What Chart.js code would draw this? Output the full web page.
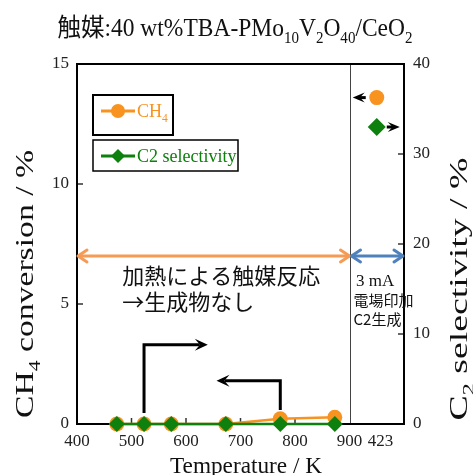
<!DOCTYPE html>
<html>
<head>
<meta charset="utf-8">
<script src="https://cdn.jsdelivr.net/npm/chart.js@4.4.1/dist/chart.umd.min.js"></script>
<style>
  html, body { margin: 0; padding: 0; background: #fff; }
</style>
</head>
<body>
<canvas id="chart" width="473" height="475"></canvas>
<script>
// data
const temps = [473, 523, 573, 673, 773, 873]
const ch4Conv = [0, 0, 0, 0, 0.22, 0.28]
const c2Sel = [0, 0, 0, 0, 0, 0]
const fieldX = [950]          // column for the 3 mA (423 K) run
const fieldCh4 = [13.6]
const fieldC2 = [33.0]

const xTicks = [400, 500, 600, 700, 800, 900, 957]
const xTickLabels = ['400', '500', '600', '700', '800', '900', '423']
const yTicks = [0, 5, 10, 15]
const y2Ticks = [0, 10, 20, 30, 40]
const innerTicksX = [500, 600, 700, 800]
const innerTicksY = [5, 10]
const innerTicksY2 = [10, 20, 30]

const SERIF = '"Liberation Serif", "DejaVu Serif", serif'
const JP = '"Noto Sans CJK JP", "Noto Sans CJK SC", sans-serif'
const ORANGE = '#F7931E'
const GREEN = '#0E800E'
const ARROW_OR = '#F59B55'
const ARROW_BL = '#4F81BD'

// --- small text helpers (subscripts, mixed fonts) ---
function segFont(s, size) {
    const sz = s.sub ? size * 0.64 : size
    return `${sz}px ${s.jp ? JP : SERIF}`
}
function richWidth(ctx, segs, size) {
    let w = 0
    segs.forEach(s => { ctx.font = segFont(s, size); w += ctx.measureText(s.t).width })
    return w
}
function drawRich(ctx, segs, x, y, size) {
    let cx = x
    segs.forEach(s => {
        ctx.font = segFont(s, size)
        ctx.fillText(s.t, cx, s.sub ? y + size * 0.28 : y)
        cx += ctx.measureText(s.t).width
    })
}
// draw centred on cx, stretched along the text to fit len
function drawFit(ctx, segs, cx, cy, size, len, rot) {
    ctx.save()
    ctx.translate(cx, cy)
    if (rot) ctx.rotate(-Math.PI / 2)
    const w = richWidth(ctx, segs, size)
    ctx.scale(len / w, 1)
    ctx.textBaseline = 'alphabetic'
    drawRich(ctx, segs, -w / 2, 0, size)
    ctx.restore()
}

function line(ctx, x1, y1, x2, y2) {
    ctx.beginPath(); ctx.moveTo(x1, y1); ctx.lineTo(x2, y2); ctx.stroke()
}
// filled "stealth" head, tip at (x,y), dir = +1 right / -1 left
function stealth(ctx, x, y, dir, len = 13, half = 6) {
    ctx.beginPath()
    ctx.moveTo(x, y)
    ctx.lineTo(x - dir * len, y - half)
    ctx.lineTo(x - dir * len * 0.6, y)
    ctx.lineTo(x - dir * len, y + half)
    ctx.closePath()
    ctx.fill()
}
// open chevron head
function chevron(ctx, x, y, dir, len = 9, half = 6) {
    ctx.beginPath()
    ctx.moveTo(x - dir * len, y - half)
    ctx.lineTo(x, y)
    ctx.lineTo(x - dir * len, y + half)
    ctx.stroke()
}

const decor = {
    id: 'decor',
    beforeDatasetsDraw(chart) {
        const { ctx, chartArea: a, scales: { x, y, y2 } } = chart
        ctx.save()

        // divider between heating and field runs
        ctx.strokeStyle = '#444'
        ctx.lineWidth = 1
        const xd = Math.round(x.getPixelForValue(900)) + 0.5
        line(ctx, xd, a.top, xd, a.bottom)

        // inward tick marks
        ctx.strokeStyle = '#333'
        ctx.lineWidth = 1.5
        innerTicksX.forEach(v => { const px = x.getPixelForValue(v); line(ctx, px, a.bottom, px, a.bottom - 6) })
        innerTicksY.forEach(v => { const py = y.getPixelForValue(v); line(ctx, a.left, py, a.left + 6, py) })
        innerTicksY2.forEach(v => { const py = y2.getPixelForValue(v); line(ctx, a.right, py, a.right - 6, py) })

        // frame
        ctx.strokeStyle = '#000'
        ctx.lineWidth = 2
        ctx.strokeRect(a.left, a.top, a.right - a.left, a.bottom - a.top)

        // range arrows at 7 %
        const ya = y.getPixelForValue(7)
        ctx.lineWidth = 3
        ctx.lineCap = 'round'
        ctx.lineJoin = 'round'
        ctx.strokeStyle = ARROW_OR
        line(ctx, a.left + 2, ya, xd - 2, ya)
        chevron(ctx, a.left + 1, ya, -1)
        chevron(ctx, xd - 1, ya, 1)
        ctx.strokeStyle = ARROW_BL
        line(ctx, xd + 2, ya, a.right - 2, ya)
        chevron(ctx, xd + 1, ya, -1)
        chevron(ctx, a.right - 1, ya, 1)

        // heating / cooling step arrows
        ctx.strokeStyle = '#000'
        ctx.fillStyle = '#000'
        ctx.lineWidth = 3
        ctx.lineCap = 'butt'
        ctx.lineJoin = 'miter'
        let px = x.getPixelForValue(523), pyb = y.getPixelForValue(0.46), pyt = y.getPixelForValue(3.3)
        let pe = x.getPixelForValue(640)
        ctx.beginPath(); ctx.moveTo(px, pyb); ctx.lineTo(px, pyt); ctx.lineTo(pe - 8, pyt); ctx.stroke()
        stealth(ctx, pe, pyt, 1)
        px = x.getPixelForValue(773); pyb = y.getPixelForValue(0.58); pyt = y.getPixelForValue(1.8)
        pe = x.getPixelForValue(656)
        ctx.beginPath(); ctx.moveTo(px, pyb); ctx.lineTo(px, pyt); ctx.lineTo(pe + 8, pyt); ctx.stroke()
        stealth(ctx, pe, pyt, -1)

        // annotations
        ctx.fillStyle = '#111'
        ctx.textBaseline = 'middle'
        ctx.textAlign = 'left'
        ctx.font = `22px ${JP}`
        ctx.fillText('加熱による触媒反応', x.getPixelForValue(483), y.getPixelForValue(6.2))
        ctx.fillText('→生成物なし', x.getPixelForValue(483), y.getPixelForValue(5.1))
        ctx.textAlign = 'center'
        ctx.font = `17px ${SERIF}`
        ctx.fillText('3 mA', x.getPixelForValue(947), y.getPixelForValue(5.95))
        ctx.textAlign = 'left'
        ctx.font = `15px ${JP}`
        ctx.fillText('電場印加', xd + 3, y.getPixelForValue(5.14))
        ctx.fillText('C2生成', xd + 3, y.getPixelForValue(4.38))
        ctx.restore()
    },
    afterDatasetsDraw(chart) {
        const { ctx, scales: { x, y, y2 } } = chart
        ctx.save()
        ctx.fillStyle = '#000'
        ctx.strokeStyle = '#000'
        ctx.lineWidth = 3
        // pointers from the field points to their axes
        const fx = x.getPixelForValue(fieldX[0])
        const fy1 = y.getPixelForValue(fieldCh4[0])
        line(ctx, fx - 11, fy1, fx - 20, fy1)
        stealth(ctx, fx - 24, fy1, -1, 12, 5)
        const fy2 = y2.getPixelForValue(fieldC2[0])
        line(ctx, fx + 10, fy2, fx + 18, fy2)
        stealth(ctx, fx + 23, fy2, 1, 12, 5)

        // legend boxes
        ctx.lineWidth = 2
        ctx.strokeRect(93, 95, 80, 40)
        ctx.lineWidth = 1.5
        ctx.strokeRect(93, 140, 145, 31)
        ctx.lineWidth = 3
        ctx.strokeStyle = ORANGE
        line(ctx, 101, 111, 135, 111)
        ctx.fillStyle = ORANGE
        ctx.beginPath(); ctx.arc(118, 111, 7, 0, Math.PI * 2); ctx.fill()
        ctx.textBaseline = 'alphabetic'
        drawRich(ctx, [{ t: 'CH' }, { t: '4', sub: true }], 137, 117, 18)
        ctx.strokeStyle = GREEN
        line(ctx, 101, 156, 135, 156)
        ctx.fillStyle = GREEN
        ctx.beginPath(); ctx.moveTo(118, 149); ctx.lineTo(125, 156); ctx.lineTo(118, 163); ctx.lineTo(111, 156); ctx.closePath(); ctx.fill()
        ctx.font = `18px ${SERIF}`
        ctx.fillText('C2 selectivity', 137, 162)

        // titles
        ctx.fillStyle = '#111'
        drawFit(ctx, [{ t: '触媒', jp: true }, { t: ':40 wt%TBA-PMo' }, { t: '10', sub: true }, { t: 'V' },
            { t: '2', sub: true }, { t: 'O' }, { t: '40', sub: true }, { t: '/CeO' }, { t: '2', sub: true }],
            235, 36, 25, 355, false)
        drawFit(ctx, [{ t: 'Temperature / K' }], 246, 473, 23, 152, false)
        drawFit(ctx, [{ t: 'CH' }, { t: '4', sub: true }, { t: ' conversion / %' }], 33, 284, 26, 268, true)
        drawFit(ctx, [{ t: 'C' }, { t: '2', sub: true }, { t: ' selectivity / %' }], 467, 289, 26, 263, true)
        ctx.restore()
    }
}

const tickFont = { family: SERIF, size: 17 }

new Chart(document.getElementById('chart'), {
    type: 'line',
    data: {
        datasets: [
            {
                label: 'C2 selectivity',
                data: temps.map((t, i) => ({ x: t, y: c2Sel[i] })),
                yAxisID: 'y2',
                borderColor: GREEN, backgroundColor: GREEN, borderWidth: 2.5,
                pointStyle: 'rectRot', pointRadius: 8, pointBorderWidth: 0,
                clip: false
            },
            {
                label: 'CH4',
                data: temps.map((t, i) => ({ x: t, y: ch4Conv[i] })),
                yAxisID: 'y',
                borderColor: ORANGE, backgroundColor: ORANGE, borderWidth: 2.5,
                pointStyle: 'circle', pointRadius: 7.5, pointBorderWidth: 0,
                clip: false
            },
            {
                label: 'C2 field',
                data: fieldX.map((t, i) => ({ x: t, y: fieldC2[i] })),
                yAxisID: 'y2', showLine: false,
                backgroundColor: GREEN, borderColor: GREEN,
                pointStyle: 'rectRot', pointRadius: 9, pointBorderWidth: 0,
                clip: false
            },
            {
                label: 'CH4 field',
                data: fieldX.map((t, i) => ({ x: t, y: fieldCh4[i] })),
                yAxisID: 'y', showLine: false,
                backgroundColor: ORANGE, borderColor: ORANGE,
                pointStyle: 'circle', pointRadius: 7.5, pointBorderWidth: 0,
                clip: false
            }
        ]
    },
    options: {
        responsive: false,
        animation: false,
        devicePixelRatio: 1,
        layout: { padding: { top: 64, left: 0, right: 0, bottom: 0 } },
        plugins: { legend: { display: false }, tooltip: { enabled: false } },
        scales: {
            x: {
                type: 'linear', min: 400, max: 1000,
                afterBuildTicks: s => { s.ticks = xTicks.map(v => ({ value: v })) },
                afterFit: s => { s.height = 51 },
                ticks: {
                    callback: (v, i) => xTickLabels[i],
                    font: tickFont, color: '#222', padding: 7,
                    maxRotation: 0, autoSkip: false
                },
                grid: { display: false, drawTicks: false },
                border: { display: false }
            },
            y: {
                position: 'left', min: 0, max: 15,
                afterBuildTicks: s => { s.ticks = yTicks.map(v => ({ value: v })) },
                afterFit: s => { s.width = 77 },
                ticks: { font: tickFont, color: '#222', padding: 8 },
                grid: { display: false, drawTicks: false },
                border: { display: false }
            },
            y2: {
                position: 'right', min: 0, max: 40,
                afterBuildTicks: s => { s.ticks = y2Ticks.map(v => ({ value: v })) },
                afterFit: s => { s.width = 69 },
                ticks: { font: tickFont, color: '#222', padding: 9 },
                grid: { display: false, drawTicks: false },
                border: { display: false }
            }
        }
    },
    plugins: [decor]
})
</script>
</body>
</html>
